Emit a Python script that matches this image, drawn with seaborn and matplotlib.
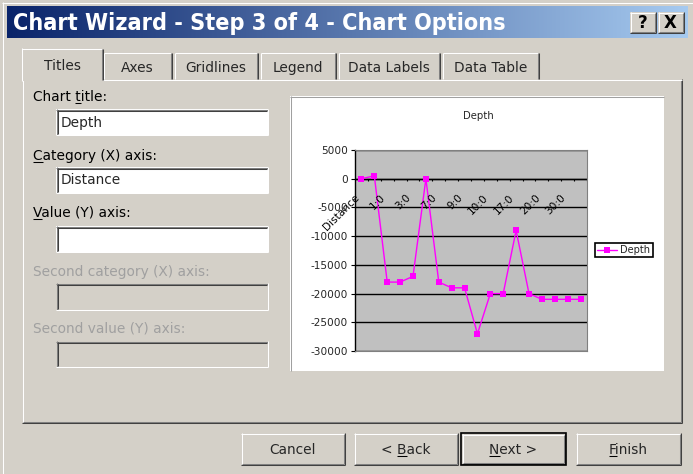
import numpy as np
import pandas as pd
import matplotlib
matplotlib.use("Agg")
import matplotlib.pyplot as plt
import seaborn as sns
from matplotlib.patches import Rectangle
from matplotlib.colors import LinearSegmentedColormap
from matplotlib import font_manager
import matplotlib.transforms as mtransforms

# ---------------- data ----------------
categories = list(range(18))
depth = [0, 500, -18000, -18000, -17000, 0, -18000, -19000, -19000,
         -27000, -20000, -20000, -9000, -20000, -21000, -21000, -21000, -21000]
x_tick_labels = ["Distance", "1:0", "3:0", "7:0", "9:0", "10:0", "17:0", "20:0", "30:0"]
x_tick_positions = [0, 2, 4, 6, 8, 10, 12, 14, 16]
y_ticks = [5000, 0, -5000, -10000, -15000, -20000, -25000, -30000]
chart_title = "Depth"
series_name = "Depth"

dialog_title = "Chart Wizard - Step 3 of 4 - Chart Options"
tab_names = ["Titles", "Axes", "Gridlines", "Legend", "Data Labels", "Data Table"]
field_labels = ["Chart title:", "Category (X) axis:", "Value (Y) axis:",
                "Second category (X) axis:", "Second value (Y) axis:"]
field_values = ["Depth", "Distance", "", "", ""]
button_names = ["Cancel", "< Back", "Next >", "Finish"]

# ---------------- figure ----------------
W, H = 693, 474
sns.set_theme(style="white")
plt.rcParams["font.family"] = ["DejaVu Sans"]
fig = plt.figure(figsize=(W / 100, H / 100), dpi=100)
FACE = "#D4D0C8"
fig.patch.set_facecolor(FACE)
bg = fig.add_axes([0, 0, 1, 1])
bg.axis("off")
renderer = fig.canvas.get_renderer()
LW = 0.75

# condensed bold font for the title bar, if one is installed
title_fp = None
cands = []
for f in font_manager.fontManager.ttflist:
    fn = f.fname.lower()
    if ("narrow" in fn or "condensed" in fn) and "bold" in fn and "oblique" not in fn and "italic" not in fn:
        cands.append(f.fname)
cands.sort(key=lambda p: (0 if "liberation" in p.lower() else 1 if "dejavusans" in p.lower().replace("-", "") else 2, p))
if cands:
    title_fp = font_manager.FontProperties(fname=cands[0])
else:
    title_fp = font_manager.FontProperties(family="DejaVu Sans", weight="bold")


def hline(x0, x1, y, c, lw=LW):
    bg.plot([x0, x1], [y, y], color=c, lw=lw, solid_capstyle="butt")


def vline(x, y0, y1, c, lw=LW):
    bg.plot([x, x], [y0, y1], color=c, lw=lw, solid_capstyle="butt")


def raised(x0, y0, x1, y1, face=FACE, outer="#404040", top=True):
    bg.add_patch(Rectangle((x0, y0), x1 - x0, y1 - y0, facecolor=face, edgecolor="none"))
    if top:
        hline(x0, x1, y0 + 0.5, "white")
    vline(x0 + 0.5, y0, y1, "white")
    hline(x0, x1, y1 - 0.5, outer)
    vline(x1 - 0.5, y0, y1, outer)
    hline(x0 + 1, x1 - 1, y1 - 1.5, "#808080")
    vline(x1 - 1.5, y0 + 1, y1 - 1, "#808080")


def sunken(x0, y0, x1, y1, face="white"):
    bg.add_patch(Rectangle((x0, y0), x1 - x0, y1 - y0, facecolor=face, edgecolor="none"))
    hline(x0, x1, y0 + 0.5, "#808080")
    vline(x0 + 0.5, y0, y1, "#808080")
    hline(x0 + 1, x1 - 1, y0 + 1.5, "#404040")
    vline(x0 + 1.5, y0 + 1, y1 - 1, "#404040")
    hline(x0, x1, y1 - 0.5, "white")
    vline(x1 - 0.5, y0, y1, "white")


def twidth(s, size, **kw):
    t = bg.text(0, 0, s, fontsize=size, **kw)
    w = t.get_window_extent(renderer).width
    t.remove()
    return w


def fit(s, target, **kw):
    return 10 * target / twidth(s, 10, **kw)


def underline(x_left, y_base, s, idx, size, color="black", **kw):
    pre = twidth(s[:idx] + "x", size, **kw) - twidth("x", size, **kw) if idx > 0 else 0
    cw = twidth(s[idx], size, **kw)
    hline(x_left + pre, x_left + pre + cw, y_base + 2, color)


# outer frame
raised(2, 2, W + 2, H + 4)

# title bar gradient
cmap = LinearSegmentedColormap.from_list("tb", ["#0A246A", "#A6CAF0"])
bg.imshow(np.linspace(0, 1, 256).reshape(1, -1), extent=(7, 688, 38, 6), cmap=cmap,
          aspect="auto", zorder=1)
tfs = fit(dialog_title, 491, fontproperties=title_fp)
bg.text(13, 23, dialog_title, color="white", fontproperties=title_fp, fontsize=tfs,
        va="center", ha="left", zorder=3)
for (bx0, glyph) in [(630, "?"), (658, "X")]:
    raised(bx0, 12, bx0 + 26, 33)
    bg.text(bx0 + 12.5, 22.5, glyph, fontsize=12, weight="bold", ha="center", va="center",
            color="black", zorder=4)

# dialog font size
dfs = fit("Second category (X) axis:", 177)

# tab panel
px0, py0, px1, py1 = 22, 79, 682, 423
raised(px0, py0, px1, py1, top=False)
hline(102, px1, py0 + 0.5, "white")

# tabs
tab_x = [(23, 101), (103, 172), (174, 258), (260, 336), (338, 440), (442, 539)]
for i, (name, (a, b)) in enumerate(zip(tab_names, tab_x)):
    if i == 0:
        bg.add_patch(Rectangle((a - 2, 48), b - a + 4, 33, facecolor=FACE, edgecolor="none", zorder=2))
        hline(a - 1, b + 1, 48.5, "white")
        vline(a - 1.5, 48, 81, "white")
        vline(b + 1.5, 49, 80, "#404040")
        vline(b + 0.5, 49, 80, "#808080")
        bg.text((a + b) / 2, 70, name, fontsize=dfs, ha="center", va="baseline", zorder=3)
    else:
        bg.add_patch(Rectangle((a, 52), b - a, 27, facecolor=FACE, edgecolor="none"))
        hline(a + 1, b - 1, 52.5, "white")
        vline(a + 0.5, 53, 79, "white")
        vline(b - 0.5, 53, 79, "#404040")
        vline(b - 1.5, 53, 79, "#808080")
        bg.text((a + b) / 2, 72, name, fontsize=dfs, ha="center", va="baseline")

# form fields
label_y = [101, 160, 217, 276, 332]
box_y = [(109, 135), (167, 193), (226, 252), (283, 310), (341, 367)]
under_idx = [6, 0, 0, None, None]
for i, (lab, val) in enumerate(zip(field_labels, field_values)):
    disabled = i >= 3
    col = "#A0A0A0" if disabled else "black"
    bg.text(33, label_y[i], lab, fontsize=dfs, color=col, ha="left", va="baseline")
    if under_idx[i] is not None:
        underline(33, label_y[i], lab, under_idx[i], dfs)
    y0, y1 = box_y[i]
    sunken(56, y0, 268, y1, face=FACE if disabled else "white")
    if val:
        bg.text(61, (y0 + y1) / 2 + 4.5, val, fontsize=dfs, ha="left", va="baseline")

# buttons
btn_x = [(241, 345), (354, 458), (461, 566), (576, 681)]
btn_under = [None, 2, 0, 0]
for i, (name, (a, b)) in enumerate(zip(button_names, btn_x)):
    if i == 2:
        bg.add_patch(Rectangle((a, 433), b - a, 32, facecolor="none", edgecolor="black", lw=1.2, zorder=5))
        raised(a + 1, 434, b - 1, 464)
    else:
        raised(a, 433, b, 465)
    cx = (a + b) / 2
    bg.text(cx, 454, name, fontsize=dfs, ha="center", va="baseline", zorder=6)
    if btn_under[i] is not None:
        wtot = twidth(name, dfs)
        underline(cx - wtot / 2, 454, name, btn_under[i], dfs)

# chart white area
bg.add_patch(Rectangle((290, 96), 374, 275, facecolor="white", edgecolor="none"))
hline(290, 664, 96.5, "#A0A0A0")
vline(290.5, 96, 371, "#A0A0A0")

bg.set_xlim(0, W)
bg.set_ylim(H, 0)

# ---------------- chart ----------------
ax = fig.add_axes([355 / W, 1 - 351 / H, 232 / W, 201 / H])
ax.set_facecolor("#C0C0C0")
df = pd.DataFrame({"cat": categories, "Depth": depth})
sns.lineplot(data=df, x="cat", y="Depth", ax=ax, color="#FF00FF", marker="s",
             markersize=5, markeredgewidth=0, linewidth=1, label=series_name, zorder=5)
ax.set_xlim(-0.5, len(categories) - 0.5)
ax.set_ylim(min(y_ticks), max(y_ticks))
ax.set_xticks([])
ax.set_xlabel("")
ax.set_ylabel("")
ax.set_yticks(y_ticks)
yfs = fit("-30000", 37)
ax.set_yticklabels([str(v) for v in y_ticks], fontsize=yfs)
ax.tick_params(axis="y", left=True, length=3, width=0.8, color="black", pad=2)
ax.yaxis.grid(True, color="black", lw=1)
ax.xaxis.grid(False)
ax.set_axisbelow(True)
for s in ["top", "right", "bottom"]:
    ax.spines[s].set_color("#808080")
    ax.spines[s].set_linewidth(0.8)
ax.spines["left"].set_color("black")
ax.spines["left"].set_linewidth(1)
ax.axhline(0, color="black", lw=1, zorder=2)
ax.vlines(np.arange(len(categories)) + 0.5, -450, 0, color="black", lw=0.8, zorder=2)

xfs = fit("Distance", 46)
trans = ax.transData + mtransforms.ScaledTranslation(-7 / 100, -14 / 100, fig.dpi_scale_trans)
for pos, lab in zip(x_tick_positions, x_tick_labels):
    ax.text(pos, 0, lab, transform=trans, rotation=45, rotation_mode="anchor",
            ha="right", va="top", fontsize=xfs, color="black", zorder=6, clip_on=False)

fig.text(478 / W, 1 - 116 / H, chart_title, fontsize=fit(chart_title, 31), ha="center", va="center")

leg = ax.legend(loc="center left", bbox_to_anchor=(595 / W, 1 - 250 / H),
                bbox_transform=fig.transFigure, frameon=True, fancybox=False,
                edgecolor="black", framealpha=1, borderpad=0.25, handlelength=2.0,
                handletextpad=0.3, fontsize=fit("Depth", 30), borderaxespad=0)
leg.get_frame().set_linewidth(1.2)

fig.savefig("out.png", dpi=100, facecolor=fig.get_facecolor())
